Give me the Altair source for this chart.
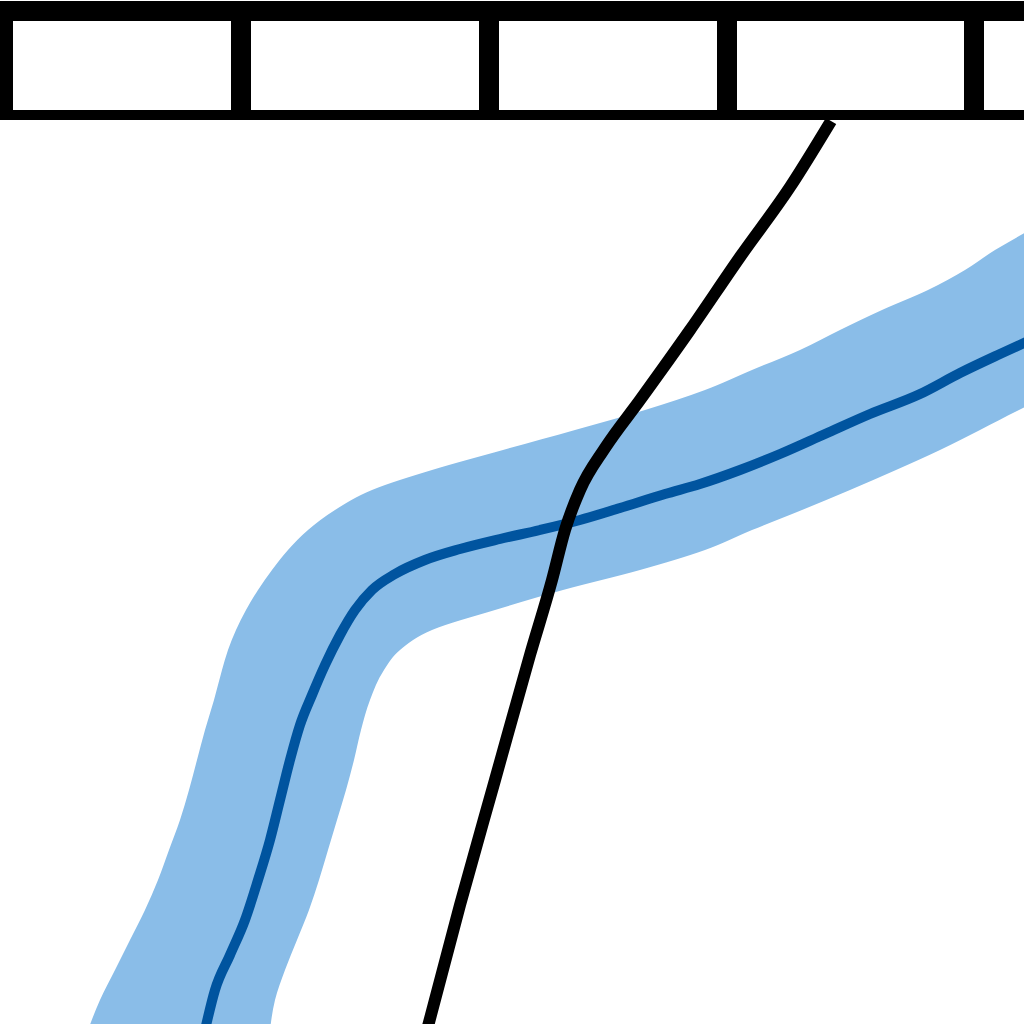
import altair as alt
import pandas as pd

# ---- band (confidence interval), read as rows: level, left edge, right edge ----
band_y = [1030, 1000, 970, 940, 910, 880, 850, 820, 790, 760, 730, 700, 670, 650,
          630, 610, 590, 570, 550, 530, 510, 490, 470, 450, 430, 410, 390, 370,
          350, 330, 310, 290, 270, 250, 230]
band_left = [88, 100, 115, 130, 145, 158, 169, 180, 189, 197, 205, 214, 222, 228,
             236, 246, 258, 272, 288, 308, 335, 372, 432, 503, 575, 645, 705, 752,
             800, 840, 882, 928, 965, 995, 1030]
band_right = [270, 275, 285, 297, 309, 319, 328, 337, 346, 354, 361, 370, 384, 400,
              432, 495, 563, 640, 705, 752, 802, 850, 896, 940, 980, 1019, 1060, 1100,
              1140, 1180, 1220, 1260, 1300, 1340, 1380]

# ---- central (dark blue) curve ----
mean_x = [205, 215, 230, 245, 258, 270, 280, 290, 300, 312, 325, 340, 355, 372, 395,
          425, 460, 500, 540, 580, 620, 665, 700, 740, 780, 825, 870, 920, 960, 1000, 1035]
mean_y = [1030, 990, 955, 920, 880, 840, 800, 760, 725, 695, 665, 635, 610, 590, 574,
          560, 549, 539, 530, 520, 508, 494, 484, 470, 454, 434, 414, 394, 373, 354, 338]

# ---- black curve ----
black_x = [427, 460, 495, 530, 552, 565, 580, 605, 640, 690, 740, 790, 831]
black_y = [1030, 905, 780, 655, 580, 530, 490, 448, 400, 330, 257, 187, 121]

# ---- top strip: divider centres ----
divider_x = [241, 489, 727, 974]
strip_left, strip_right = 0, 1060
strip_top, strip_bottom = 1, 120
inner_top, inner_bottom = 21, 110

band = pd.DataFrame({"y": band_y, "xl": band_left, "xr": band_right})
mean = pd.DataFrame({"x": mean_x, "y": mean_y, "i": range(len(mean_x))})
black = pd.DataFrame({"x": black_x, "y": black_y, "i": range(len(black_x))})

edges = [13] + divider_x + [strip_right]
cells = []
for k in range(len(edges) - 1):
    a = edges[k] + (10 if k > 0 else 0)
    b = edges[k + 1] - (10 if k + 1 < len(edges) - 1 else 0)
    cells.append({"x": a, "x2": b, "y": inner_top, "y2": inner_bottom})
cells = pd.DataFrame(cells)
frame = pd.DataFrame([{"x": strip_left, "x2": strip_right, "y": strip_top, "y2": strip_bottom}])

xs = alt.Scale(domain=[0, 1024], nice=False, zero=False)
ys = alt.Scale(domain=[0, 1024], nice=False, zero=False, reverse=True)

band_layer = alt.Chart(band).mark_area(orient="horizontal", color="#8abde8", opacity=1,
                                        interpolate="monotone", clip=True).encode(
    y=alt.Y("y:Q", scale=ys, axis=None),
    x=alt.X("xl:Q", scale=xs, axis=None),
    x2="xr:Q",
)

mean_layer = alt.Chart(mean).mark_line(color="#00549f", strokeWidth=10,
                                       interpolate="monotone", clip=True).encode(
    x=alt.X("x:Q", scale=xs, axis=None),
    y=alt.Y("y:Q", scale=ys, axis=None),
    order="i:Q",
)

black_layer = alt.Chart(black).mark_line(color="#000000", strokeWidth=12,
                                         interpolate="monotone", clip=True).encode(
    x=alt.X("x:Q", scale=xs, axis=None),
    y=alt.Y("y:Q", scale=ys, axis=None),
    order="i:Q",
)

frame_layer = alt.Chart(frame).mark_rect(color="#000000", clip=True).encode(
    x=alt.X("x:Q", scale=xs, axis=None), x2="x2:Q",
    y=alt.Y("y:Q", scale=ys, axis=None), y2="y2:Q",
)

cell_layer = alt.Chart(cells).mark_rect(color="#ffffff", clip=True).encode(
    x=alt.X("x:Q", scale=xs, axis=None), x2="x2:Q",
    y=alt.Y("y:Q", scale=ys, axis=None), y2="y2:Q",
)

chart = alt.layer(band_layer, mean_layer, black_layer, frame_layer, cell_layer).properties(
    width=1024, height=1024, padding=0, autosize="none", background="#ffffff"
).configure_view(stroke=None)

chart.save("out.html", embed_options={"renderer": "svg", "actions": False})
